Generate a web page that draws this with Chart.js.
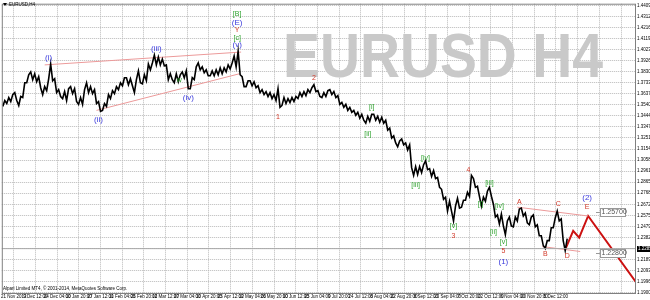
<!DOCTYPE html>
<html>
<head>
<meta charset="utf-8">
<script src="https://cdn.jsdelivr.net/npm/chart.js@4/dist/chart.umd.min.js"></script>
<style>
  html, body { margin: 0; padding: 0; background: #fff; }
  canvas { display: block; }
</style>
</head>
<body>
<canvas id="eurusdChart" width="650" height="300"></canvas>
<script>
// time axis labels (one per vertical grid line)
const dateLabels = ['21 Nov 2013', '9 Dec 12:00', '24 Dec 04:00', '10 Jan 20:00', '27 Jan 12:00',
  '11 Feb 04:00', '25 Feb 20:00', '12 Mar 12:00', '27 Mar 04:00', '10 Apr 20:00', '25 Apr 12:00',
  '12 May 04:00', '26 May 20:00', '10 Jun 12:00', '25 Jun 04:00', '9 Jul 20:00', '24 Jul 12:00',
  '8 Aug 04:00', '22 Aug 20:00', '8 Sep 12:00', '23 Sep 04:00', '7 Oct 20:00', '22 Oct 12:00',
  '6 Nov 04:00', '20 Nov 20:00', '5 Dec 12:00'];

// price axis labels
const priceTicks = [1.44090, 1.43125, 1.42160, 1.41195, 1.40230, 1.39265, 1.38300, 1.37335, 1.36370,
  1.35405, 1.34440, 1.33475, 1.32510, 1.31545, 1.30580, 1.29615, 1.28650, 1.27685, 1.26720, 1.25755,
  1.24790, 1.23825, 1.22860, 1.21895, 1.20930, 1.19965, 1.19000];

// price range of each bar group, oldest first
const highs = [
  1.3578, 1.3604, 1.3630, 1.3647, 1.3613, 1.3733, 1.3803, 1.3828, 1.3811, 1.3786,
  1.3699, 1.3768, 1.3897, 1.3768, 1.3673, 1.3656, 1.3681, 1.3699, 1.3681, 1.3604,
  1.3673, 1.3733, 1.3699, 1.3673, 1.3569, 1.3552, 1.3630, 1.3664, 1.3699, 1.3733,
  1.3777, 1.3777, 1.3768, 1.3760, 1.3837, 1.3803, 1.3897, 1.3906, 1.3975, 1.3958,
  1.3940, 1.3889, 1.3811, 1.3811, 1.3803, 1.3828, 1.3837, 1.3777, 1.3872, 1.3906,
  1.3872, 1.3846, 1.3837, 1.3846, 1.3863, 1.3863, 1.3889, 1.3906, 1.3966, 1.4009,
  1.3786, 1.3751, 1.3751, 1.3742, 1.3707, 1.3673, 1.3656, 1.3647, 1.3630, 1.3681,
  1.3604, 1.3595, 1.3604, 1.3613, 1.3647, 1.3656, 1.3673, 1.3690, 1.3716, 1.3664,
  1.3647, 1.3664, 1.3673, 1.3656, 1.3621, 1.3561, 1.3544, 1.3518, 1.3492, 1.3475,
  1.3458, 1.3440, 1.3458, 1.3458, 1.3440, 1.3432, 1.3406, 1.3337, 1.3269, 1.3225,
  1.3242, 1.3208, 1.3191, 1.3001, 1.3001, 1.3018, 1.3052, 1.2984, 1.2967, 1.2906,
  1.2803, 1.2734, 1.2699, 1.2656, 1.2725, 1.2708, 1.2777, 1.2924, 1.2897, 1.2829,
  1.2734, 1.2786, 1.2820, 1.2673, 1.2579, 1.2587, 1.2527, 1.2561, 1.2561, 1.2630,
  1.2639, 1.2596, 1.2561, 1.2579, 1.2493, 1.2398, 1.2355, 1.2467, 1.2553, 1.2613,
  1.2544, 1.2372];
const lows = [
  1.3527, 1.3552, 1.3569, 1.3578, 1.3535, 1.3604, 1.3733, 1.3760, 1.3742, 1.3690,
  1.3630, 1.3664, 1.3751, 1.3647, 1.3613, 1.3595, 1.3578, 1.3638, 1.3569, 1.3544,
  1.3544, 1.3647, 1.3638, 1.3552, 1.3483, 1.3492, 1.3527, 1.3595, 1.3638, 1.3673,
  1.3707, 1.3716, 1.3707, 1.3647, 1.3733, 1.3724, 1.3751, 1.3846, 1.3889, 1.3889,
  1.3880, 1.3760, 1.3760, 1.3733, 1.3742, 1.3777, 1.3681, 1.3681, 1.3760, 1.3846,
  1.3820, 1.3794, 1.3794, 1.3794, 1.3803, 1.3811, 1.3828, 1.3854, 1.3872, 1.3803,
  1.3699, 1.3699, 1.3707, 1.3690, 1.3647, 1.3630, 1.3613, 1.3595, 1.3578, 1.3518,
  1.3535, 1.3552, 1.3561, 1.3569, 1.3595, 1.3613, 1.3621, 1.3647, 1.3656, 1.3613,
  1.3604, 1.3613, 1.3630, 1.3604, 1.3544, 1.3518, 1.3492, 1.3475, 1.3449, 1.3423,
  1.3406, 1.3380, 1.3397, 1.3406, 1.3389, 1.3380, 1.3320, 1.3251, 1.3208, 1.3174,
  1.3191, 1.3147, 1.2992, 1.2924, 1.2932, 1.2949, 1.2975, 1.2915, 1.2897, 1.2820,
  1.2716, 1.2613, 1.2613, 1.2527, 1.2639, 1.2647, 1.2708, 1.2742, 1.2820, 1.2742,
  1.2656, 1.2699, 1.2742, 1.2561, 1.2501, 1.2484, 1.2407, 1.2484, 1.2475, 1.2527,
  1.2570, 1.2510, 1.2493, 1.2475, 1.2398, 1.2312, 1.2286, 1.2355, 1.2467, 1.2527,
  1.2355, 1.2268];

// projected path D -> E and beyond
const projX = [140.75, 142.75, 144.25, 146.5, 158.5];
const projPrice = [1.2277, 1.2441, 1.2381, 1.2570, 1.1992];

// trend lines: [x0, x1], [price0, price1]
const trendLines = [
  { x: [10.25, 59.5], p: [1.3889, 1.4001] },
  { x: [23.25, 59], p: [1.3492, 1.3811] },
  { x: [128.75, 146.5], p: [1.2647, 1.2570] },
  { x: [135, 144.5], p: [1.2303, 1.2260] }
];

const bidPrice = 1.2285;

const BLUE = '#3b3bdc', GREEN = '#2fa32f', RED = '#d23a2a';
const waveLabels = [
  { t: '(i)', x: 11.25, p: 1.3949, c: BLUE },
  { t: '(ii)', x: 23.75, p: 1.3414, c: BLUE },
  { t: '(iii)', x: 38.25, p: 1.4027, c: BLUE },
  { t: '(iv)', x: 46.25, p: 1.3604, c: BLUE },
  { t: 'w', x: 44, p: 1.3760, c: GREEN },
  { t: '[B]', x: 58.5, p: 1.4337, c: GREEN },
  { t: '(E)', x: 58.5, p: 1.4259, c: BLUE },
  { t: 'Y', x: 58.5, p: 1.4190, c: RED },
  { t: '[c]', x: 58.5, p: 1.4121, c: GREEN },
  { t: '(v)', x: 58.5, p: 1.4061, c: BLUE },
  { t: '1', x: 68.75, p: 1.3432, c: RED },
  { t: '2', x: 77.75, p: 1.3777, c: RED },
  { t: '[i]', x: 92.25, p: 1.3518, c: GREEN },
  { t: '[ii]', x: 91.25, p: 1.3285, c: GREEN },
  { t: '[iii]', x: 103.25, p: 1.2837, c: GREEN },
  { t: '[iv]', x: 105.75, p: 1.3078, c: GREEN },
  { t: '[v]', x: 112.75, p: 1.2484, c: GREEN },
  { t: '3', x: 112.75, p: 1.2398, c: RED },
  { t: '4', x: 116.5, p: 1.2975, c: RED },
  { t: '[i]', x: 119.5, p: 1.2673, c: GREEN },
  { t: '[iii]', x: 121.75, p: 1.2854, c: GREEN },
  { t: '[ii]', x: 122.75, p: 1.2432, c: GREEN },
  { t: '[iv]', x: 124.25, p: 1.2656, c: GREEN },
  { t: '[v]', x: 125.25, p: 1.2346, c: GREEN },
  { t: '5', x: 125.25, p: 1.2260, c: RED },
  { t: '(1)', x: 125.25, p: 1.2173, c: BLUE },
  { t: 'A', x: 129.25, p: 1.2690, c: RED },
  { t: 'B', x: 135.75, p: 1.2234, c: RED },
  { t: 'C', x: 139, p: 1.2673, c: RED },
  { t: 'D', x: 141.25, p: 1.2216, c: RED },
  { t: '(2)', x: 146.25, p: 1.2725, c: BLUE },
  { t: 'E', x: 146.25, p: 1.2647, c: RED }
];

const levelLabels = [
  { t: '1.25700', x: 149.5, p: 1.2609 },
  { t: '1.22800', x: 149.5, p: 1.2247 }
];

const FONT = '"Liberation Sans", Arial, sans-serif';

const overlay = {
  id: 'overlay',
  beforeDatasetsDraw(chart) {
    const { ctx } = chart;
    ctx.save();
    ctx.fillStyle = '#c9c9c9';
    ctx.font = 'bold 63px ' + FONT;
    ctx.textBaseline = 'alphabetic';
    ctx.fillText('EURUSD H4', 283, 77, 320);
    ctx.restore();
  },
  afterDatasetsDraw(chart) {
    const { ctx, chartArea: a, scales: { x, y } } = chart;
    ctx.save();
    ctx.textAlign = 'center';
    ctx.textBaseline = 'middle';
    waveLabels.forEach(l => {
      ctx.font = (l.c === BLUE ? '8px ' : '7px ') + FONT;
      ctx.fillStyle = l.c;
      ctx.fillText(l.t, x.getPixelForValue(l.x), y.getPixelForValue(l.p));
    });

    // price level text boxes
    ctx.font = '7px ' + FONT;
    ctx.textAlign = 'left';
    levelLabels.forEach(l => {
      const px = Math.round(x.getPixelForValue(l.x)), py = Math.round(y.getPixelForValue(l.p));
      ctx.fillStyle = '#fff';
      ctx.fillRect(px, py - 4, 25, 8);
      ctx.strokeStyle = '#999';
      ctx.lineWidth = 1;
      ctx.strokeRect(px + 0.5, py - 3.5, 25, 8);
      ctx.beginPath();
      ctx.moveTo(px - 4, py + 0.5);
      ctx.lineTo(px, py + 0.5);
      ctx.stroke();
      ctx.fillStyle = '#555';
      ctx.fillText(l.t, px + 1.5, py + 0.5);
    });

    // current price tag on the axis
    const by = Math.round(y.getPixelForValue(bidPrice));
    ctx.fillStyle = '#000';
    ctx.fillRect(a.right + 1, by - 3, 13, 6);
    ctx.fillStyle = '#fff';
    ctx.font = '4.5px ' + FONT;
    ctx.fillText(bidPrice.toFixed(5), a.right + 2, by);

    // frame
    ctx.strokeStyle = '#808080';
    ctx.strokeRect(a.left + 0.5, a.top + 0.5, a.right - a.left - 1, a.bottom - a.top);

    // header and copyright
    ctx.fillStyle = '#000';
    ctx.beginPath();
    ctx.moveTo(3, 3); ctx.lineTo(7, 3); ctx.lineTo(5, 6); ctx.closePath();
    ctx.fill();
    ctx.font = '4.5px ' + FONT;
    ctx.fillText('EURUSD,H4', 9, 5);
    ctx.fillText('Alpari Limited MT4, \u00a9 2001-2014, MetaQuotes Software Corp.', 3, 289);
    ctx.restore();
  }
};

const lineSet = (xs, ps, color, width) => ({
  data: xs.map((v, i) => ({ x: v, y: ps[i] })),
  borderColor: color,
  borderWidth: width,
  pointRadius: 0,
  fill: false,
  tension: 0
});

// price trace: each group's high and low, visited in the direction the price moves next
const pricePath = [];
highs.forEach((h, i) => {
  const next = i + 1 < highs.length ? highs[i + 1] + lows[i + 1] : h + lows[i];
  const falling = next < h + lows[i];
  pricePath.push({ x: i - 0.25, y: falling ? h : lows[i] });
  pricePath.push({ x: i + 0.25, y: falling ? lows[i] : h });
});

new Chart(document.getElementById('eurusdChart'), {
  type: 'line',
  data: {
    datasets: [
      lineSet([-0.5, 158.5], [bidPrice, bidPrice], '#a8a8a8', 1),
      {
        data: pricePath,
        borderColor: '#000',
        borderWidth: 1.6,
        pointRadius: 0,
        tension: 0
      },
      ...trendLines.map(t => lineSet(t.x, t.p, '#ec9a9a', 1)),
      lineSet(projX, projPrice, '#cc1111', 2)
    ]
  },
  options: {
    responsive: false,
    animation: false,
    devicePixelRatio: 1,
    layout: { padding: 0 },
    plugins: { legend: { display: false }, tooltip: { enabled: false } },
    scales: {
      x: {
        type: 'linear',
        min: -0.5,
        max: 158.5,
        afterBuildTicks: s => {
          const t = [];
          for (let k = 0; k < 29; k++) t.push({ value: 2.5 + 5.4375 * k });
          s.ticks = t;
        },
        afterFit: s => { s.height = 7; },
        grid: { color: '#b9b9b9', lineWidth: 1, drawTicks: false },
        border: { display: false, dash: [1, 1] },
        ticks: {
          autoSkip: false,
          maxRotation: 0,
          padding: 1,
          color: '#000',
          font: { size: 4.5, family: FONT },
          callback: (v, i) => dateLabels[i] || ''
        }
      },
      y: {
        position: 'right',
        min: 1.18977,
        max: 1.44233,
        afterBuildTicks: s => { s.ticks = priceTicks.map(v => ({ value: v })); },
        afterFit: s => { s.width = 14; },
        grid: { color: '#b9b9b9', lineWidth: 1, drawTicks: false },
        border: { display: false, dash: [1, 1] },
        ticks: {
          padding: 1,
          color: '#000',
          font: { size: 4.5, family: FONT },
          callback: v => v.toFixed(5)
        }
      }
    }
  },
  plugins: [overlay]
});
</script>
</body>
</html>
